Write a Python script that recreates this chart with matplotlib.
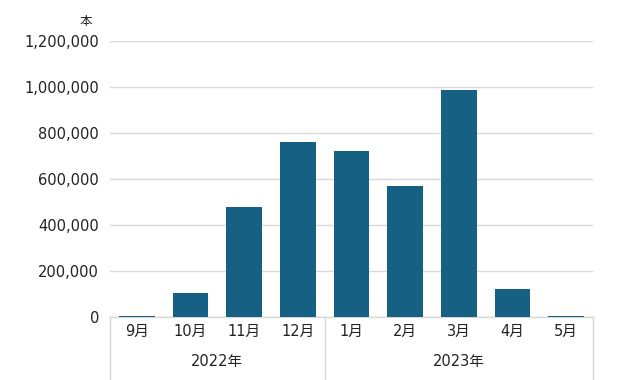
import matplotlib
matplotlib.use("Agg")
import matplotlib.pyplot as plt
import matplotlib.transforms as mtransforms
from matplotlib.ticker import FuncFormatter

plt.rcParams['font.family'] = ['DejaVu Sans', 'Noto Sans CJK JP']

# データ（本数）
months = ["9月", "10月", "11月", "12月", "1月", "2月", "3月", "4月", "5月"]
values = [4500, 104000, 478000, 761000, 722000, 570000, 987000, 122000, 4000]
years = ["2022年", "2023年"]
year_counts = [4, 5]
y_ticks = [0, 200000, 400000, 600000, 800000, 1000000, 1200000]

bar_color = "#166083"
grid_color = "#d9d9d9"
text_color = "#222222"

fig = plt.figure(figsize=(6.34, 3.8), dpi=100)
ax = fig.add_axes([110 / 634, 63 / 380, 483 / 634, 276 / 380])

x = range(len(months))
ax.bar(x, values, width=0.67, color=bar_color, zorder=3)

ax.set_xlim(-0.5, len(months) - 0.5)
ax.set_ylim(0, 1200000)
ax.set_yticks(y_ticks)
ax.yaxis.set_major_formatter(FuncFormatter(lambda v, p: f"{int(v):,}"))
ax.grid(axis="y", color=grid_color, linewidth=1, zorder=0)

ax.set_xticks(list(x))
ax.set_xticklabels(months)
ax.tick_params(axis="x", length=0, pad=5, labelsize=10.5, colors=text_color)
ax.tick_params(axis="y", length=0, pad=8, labelsize=10.5, colors=text_color)

for s in ["top", "right", "left"]:
    ax.spines[s].set_visible(False)
ax.spines["bottom"].set_color(grid_color)
ax.spines["bottom"].set_linewidth(1)

# 年ラベルと区切り線
trans = mtransforms.blended_transform_factory(ax.transData, ax.transAxes)
start = 0
bounds = [-0.5]
for yr, n in zip(years, year_counts):
    center = start + (n - 1) / 2
    ax.text(center, -0.162, yr, transform=trans, ha="center", va="center",
            fontsize=10.5, color=text_color)
    start += n
    bounds.append(start - 0.5)
for b in bounds:
    ax.plot([b, b], [0, -0.23], transform=trans, color=grid_color,
            linewidth=1, clip_on=False)

fig.text(86 / 634, 1 - 21 / 380, "本", ha="center", va="center",
         fontsize=9, color=text_color)

fig.savefig("out.png", dpi=100)
